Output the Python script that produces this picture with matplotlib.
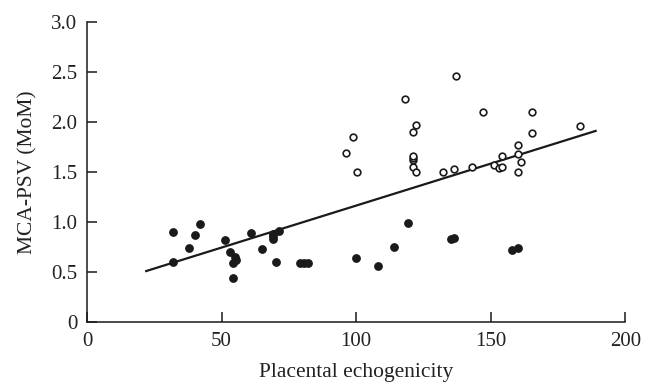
import matplotlib
matplotlib.use("Agg")
import matplotlib.pyplot as plt
import numpy as np

plt.rcParams['font.family'] = ['Liberation Serif', 'DejaVu Serif']

# filled points (lower group)
x_filled = [32.1, 32.1, 38.0, 40.0, 42.0, 51.2, 53.2, 54.2, 55.1, 55.3, 54.2,
            61.1, 65.2, 69.1, 69.1, 69.1, 71.3, 70.3, 79.2, 80.7, 82.2,
            100.0, 108.3, 114.0, 119.1, 135.3, 136.3, 158.0, 160.1]
y_filled = [0.90, 0.60, 0.74, 0.87, 0.98, 0.82, 0.70, 0.59, 0.65, 0.62, 0.44,
            0.89, 0.73, 0.88, 0.83, 0.86, 0.91, 0.60, 0.59, 0.59, 0.59,
            0.64, 0.56, 0.75, 0.99, 0.83, 0.84, 0.72, 0.74]

# open points (upper group)
x_open = [96.3, 99.0, 100.3, 118.3, 121.2, 122.2, 121.2, 121.2, 121.2, 121.2, 122.1,
          132.2, 136.2, 137.0, 143.1, 147.1, 151.2, 153.1, 154.3, 154.3,
          160.2, 160.2, 161.2, 160.2, 165.2, 165.2, 183.1]
y_open = [1.69, 1.85, 1.50, 2.23, 1.90, 1.97, 1.62, 1.64, 1.66, 1.55, 1.50,
          1.50, 1.53, 2.46, 1.55, 2.10, 1.57, 1.54, 1.55, 1.66,
          1.77, 1.68, 1.60, 1.50, 2.10, 1.89, 1.96]

# regression line end points
x_fit = [22, 189]
y_fit = [0.51, 1.91]

fig = plt.figure(figsize=(6.54, 3.83), dpi=100)
ax = fig.add_axes([0.133, 0.159, 0.823, 0.784])

ax.plot(x_fit, y_fit, color='#1a1a1a', lw=1.6, zorder=2)
ax.plot(x_filled, y_filled, 'o', color='#1a1a1a', ms=5.3, zorder=3)
ax.plot(x_open, y_open, 'o', mfc='white', mec='#1a1a1a', mew=1.2, ms=4.8, zorder=3)

ax.set_xlim(0, 200)
ax.set_ylim(0, 3.0)
ax.set_xticks([0, 50, 100, 150, 200])
ax.set_yticks([0, 0.5, 1.0, 1.5, 2.0, 2.5, 3.0])
ax.set_yticklabels(['0', '0.5', '1.0', '1.5', '2.0', '2.5', '3.0'])
ax.spines['top'].set_visible(False)
ax.spines['right'].set_visible(False)
for s in ['left', 'bottom']:
    ax.spines[s].set_linewidth(1.1)
    ax.spines[s].set_color('#1a1a1a')
ax.tick_params(direction='in', length=7, width=1.1, colors='#1a1a1a',
               labelsize=15, labelcolor='#222222', pad=7)

ax.set_xlabel('Placental echogenicity', fontsize=15.5, color='#222222', labelpad=9)
ax.set_ylabel('MCA-PSV (MoM)', fontsize=15.5, color='#222222', labelpad=10)

fig.savefig('out.png', dpi=100)
